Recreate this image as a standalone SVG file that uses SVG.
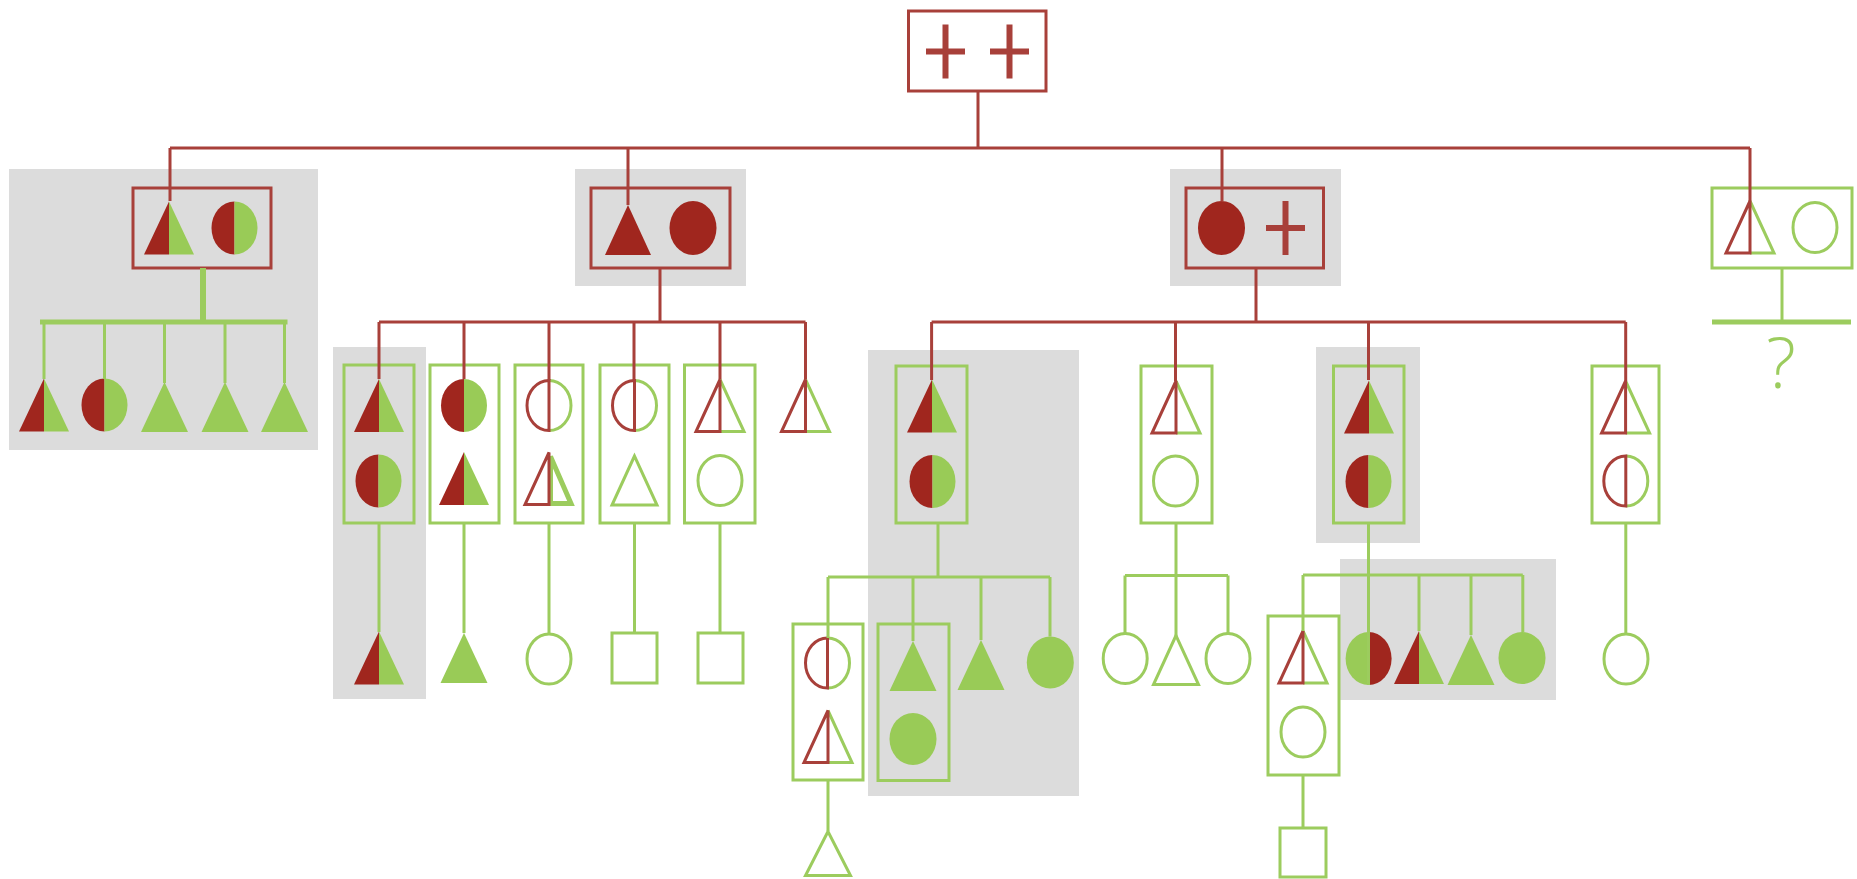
<svg xmlns="http://www.w3.org/2000/svg" xmlns:xlink="http://www.w3.org/1999/xlink" width="1857" height="879" viewBox="0 0 1857 879">
  <style>
    .r { stroke: #a8403a; stroke-width: 3; fill: none; }
    .g { stroke: #9ccc5e; stroke-width: 3; fill: none; }
    .rf { fill: #a0261e; }
    .gf { fill: #99cb57; }
    .hl { fill: #dcdcdc; }
    .bar { stroke-width: 5; }
    .q { font-family: "Open Sans", "Liberation Sans", sans-serif; font-weight: 300; font-size: 70px; fill: #9ccc5e; text-anchor: middle; }
  </style>
  <defs>
    <!-- triangles: apex up, centred on the origin -->
    <g id="tH"><path class="rf" d="M0,-26.5 L-25,26.5 L0,26.5Z"/><path class="gf" d="M0,-26.5 L0,26.5 L25,26.5Z"/></g>
    <path id="tR" class="rf" d="M0,-25 L-23,25 L23,25Z"/>
    <path id="tG" class="gf" d="M0,-25 L-23.5,25 L23.5,25Z"/>
    <g id="tOH"><path class="g" d="M0,-26 L24,26 L0,26"/><path class="r" d="M0,26 L-24,26 L0,-26Z"/></g>
    <g id="tOHb"><path class="g" style="stroke-width:5" d="M1.5,-22 L22,25 L1.5,25Z"/><path class="r" d="M0,26 L-24,26 L0,-26Z"/></g>
    <path id="tO" class="g" d="M0,-24.5 L-22.5,24.5 L22.5,24.5Z"/>
    <!-- ellipses -->
    <g id="cH"><path class="rf" d="M0,-26.5 A23,26.5 0 0 0 0,26.5Z"/><path class="gf" d="M0,-26.5 A23,26.5 0 0 1 0,26.5Z"/></g>
    <g id="cHR"><path class="gf" d="M0,-26.5 A23,26.5 0 0 0 0,26.5Z"/><path class="rf" d="M0,-26.5 A23,26.5 0 0 1 0,26.5Z"/></g>
    <ellipse id="cR" class="rf" rx="23.5" ry="27"/>
    <ellipse id="cG" class="gf" rx="23.5" ry="26"/>
    <ellipse id="cO" class="g" rx="22" ry="25"/>
    <g id="cOH"><path class="g" d="M0,-25 A22,25 0 0 1 0,25"/><path class="r" d="M0,-25 A22,25 0 0 0 0,25Z"/></g>
    <rect id="sq" class="g" x="-22.5" y="-25" width="45" height="50"/>
    <path id="plus" class="r" style="stroke-width:6" d="M-19.5,0H19.5M0,-27V27"/>
  </defs>

  <rect width="1857" height="879" fill="#ffffff"/>

  <!-- shaded groupings -->
  <g id="highlights">
    <rect class="hl" x="9" y="169" width="309" height="281"/>
    <rect class="hl" x="575" y="169" width="171" height="117"/>
    <rect class="hl" x="1170" y="169" width="171" height="117"/>
    <rect class="hl" x="333" y="347" width="93" height="352"/>
    <rect class="hl" x="868" y="350" width="211" height="446"/>
    <rect class="hl" x="1316" y="347" width="104" height="196"/>
    <rect class="hl" x="1340" y="559" width="216" height="141"/>
  </g>

  <!-- generation 1 -->
  <g id="root">
    <rect class="r" x="908.5" y="11" width="137.5" height="80"/>
    <use href="#plus" x="945.5" y="51.5"/>
    <use href="#plus" x="1009.5" y="51.5"/>
  </g>

  <!-- generation 2 -->
  <g id="nodeA">
    <rect class="r" x="133" y="188" width="138" height="80"/>
    <use href="#tH" x="169" y="228"/>
    <use href="#cH" x="234.5" y="228"/>
  </g>
  <g id="nodeB">
    <rect class="r" x="591" y="188" width="139" height="80"/>
    <use href="#tR" x="628" y="230"/>
    <use href="#cR" x="693" y="228"/>
  </g>
  <g id="nodeC">
    <rect class="r" x="1186" y="188" width="137.5" height="80"/>
    <use href="#cR" x="1221.5" y="228"/>
    <use href="#plus" x="1285.5" y="228"/>
  </g>
  <g id="nodeD">
    <rect class="g" x="1712" y="188" width="140" height="80"/>
    <use href="#tOH" x="1750" y="227"/>
    <use href="#cO" x="1815" y="227.5"/>
    <text class="q" x="1781" y="388">?</text>
  </g>

  <!-- generation 3: offspring of A -->
  <g id="nodeA1"><use href="#tH" x="44" y="405"/></g>
  <g id="nodeA2"><use href="#cH" x="104.5" y="405"/></g>
  <g id="nodeA3"><use href="#tG" x="164.5" y="407"/></g>
  <g id="nodeA4"><use href="#tG" x="225" y="407"/></g>
  <g id="nodeA5"><use href="#tG" x="284.5" y="407"/></g>

  <!-- generation 3: offspring of B -->
  <g id="nodeB1">
    <rect class="g" x="344" y="365" width="70" height="158"/>
    <use href="#tH" x="379" y="405.5"/>
    <use href="#cH" x="378.5" y="481"/>
  </g>
  <g id="nodeB2">
    <rect class="g" x="430" y="365" width="69" height="158"/>
    <use href="#cH" x="464" y="405.5"/>
    <use href="#tH" x="464" y="478.5"/>
  </g>
  <g id="nodeB3">
    <rect class="g" x="515" y="365" width="68" height="158"/>
    <use href="#cOH" x="549" y="405.5"/>
    <use href="#tOHb" x="549" y="478.5"/>
  </g>
  <g id="nodeB4">
    <rect class="g" x="600" y="365" width="69" height="158"/>
    <use href="#cOH" x="634.5" y="405.5"/>
    <use href="#tO" x="634.5" y="480.5"/>
  </g>
  <g id="nodeB5">
    <rect class="g" x="684.5" y="365" width="70.5" height="158"/>
    <use href="#tOH" x="720" y="405.5"/>
    <use href="#cO" x="720" y="480.5"/>
  </g>
  <g id="nodeB6"><use href="#tOH" x="805.5" y="405.5"/></g>

  <!-- generation 4 below B -->
  <g id="nodeB1a"><use href="#tH" x="379" y="658"/></g>
  <g id="nodeB2a"><use href="#tG" x="464" y="658"/></g>
  <g id="nodeB3a"><use href="#cO" x="549" y="659"/></g>
  <g id="nodeB4a"><use href="#sq" x="634.5" y="658"/></g>
  <g id="nodeB5a"><use href="#sq" x="720.5" y="658"/></g>

  <!-- generation 3: offspring of C -->
  <g id="nodeC1">
    <rect class="g" x="896" y="366" width="71" height="157"/>
    <use href="#tH" x="932" y="406"/>
    <use href="#cH" x="932.5" y="481.5"/>
  </g>
  <g id="nodeC2">
    <rect class="g" x="1141" y="366" width="71" height="157"/>
    <use href="#tOH" x="1176" y="407"/>
    <use href="#cO" x="1175.5" y="481"/>
  </g>
  <g id="nodeC3">
    <rect class="g" x="1333.5" y="366" width="70.5" height="157"/>
    <use href="#tH" x="1369" y="407"/>
    <use href="#cH" x="1368.5" y="481.5"/>
  </g>
  <g id="nodeC4">
    <rect class="g" x="1592" y="366" width="67" height="157"/>
    <use href="#tOH" x="1625.6" y="407"/>
    <use href="#cOH" x="1625.8" y="481"/>
  </g>

  <!-- generation 4 below C1 -->
  <g id="nodeC1a">
    <rect class="g" x="793" y="624" width="70" height="156"/>
    <use href="#cOH" x="827.5" y="663"/>
    <use href="#tOH" x="828" y="736.5"/>
  </g>
  <g id="nodeC1a1"><path class="g" d="M828,831.5 L805.5,875.5 L850.5,875.5Z"/></g>
  <g id="nodeC1b">
    <rect class="g" x="878" y="624" width="71" height="156.5"/>
    <use href="#tG" x="913" y="666"/>
    <use href="#cG" x="913" y="739"/>
  </g>
  <g id="nodeC1c"><use href="#tG" x="981" y="665"/></g>
  <g id="nodeC1d"><use href="#cG" x="1050.3" y="662.5"/></g>

  <!-- generation 4 below C2 -->
  <g id="nodeC2a"><use href="#cO" x="1125.2" y="658.5"/></g>
  <g id="nodeC2b"><use href="#tO" x="1176" y="660"/></g>
  <g id="nodeC2c"><use href="#cO" x="1228" y="658.5"/></g>

  <!-- generation 4 below C3 -->
  <g id="nodeC3a">
    <rect class="g" x="1268" y="616" width="71" height="159"/>
    <use href="#tOH" x="1303" y="657"/>
    <use href="#cO" x="1303" y="732"/>
  </g>
  <g id="nodeC3a1"><rect class="g" x="1280" y="828" width="46" height="49"/></g>
  <g id="nodeC3b"><use href="#cHR" x="1368.6" y="658.6"/></g>
  <g id="nodeC3c"><use href="#tH" x="1419" y="657.5"/></g>
  <g id="nodeC3d"><use href="#tG" x="1471" y="660"/></g>
  <g id="nodeC3e"><use href="#cG" x="1522" y="658"/></g>

  <!-- generation 4 below C4 -->
  <g id="nodeC4a"><use href="#cO" x="1626" y="659"/></g>

  <!-- connectors -->
  <g id="connectors">
    <!-- root line (red) -->
    <path class="r" d="M978,91V148 M170,148H1750 M170,148V201 M628,148V205 M1222,148V201.5 M1750,148V201"/>
    <!-- B line (red) -->
    <path class="r" d="M660,268V322 M379,322H805.5 M379,322V379 M464,322V379 M549,322V380 M634,322V380 M720,322V379 M805.5,322V379"/>
    <!-- C line (red) -->
    <path class="r" d="M1256,268V322 M931.6,322H1625.7 M931.6,322V380 M1175.5,322V381 M1368.5,322V380 M1625.7,322V381"/>
    <!-- A line (green, heavy) -->
    <path class="g" style="stroke-width:6" d="M203,268V322"/>
    <path class="g bar" d="M40,322H287.5"/>
    <path class="g" d="M44,322V379 M104.5,322V379 M164.5,322V383 M225,322V383 M284.5,322V383"/>
    <!-- B offspring lines -->
    <path class="g" d="M379,523V632 M464,523V633 M549,523V634 M634.5,523V633 M720,523V633"/>
    <!-- C1 line -->
    <path class="g" d="M938,523V577 M828,577H1050 M828,577V638 M913,577V641 M981,577V640 M1050,577V636.5 M828,780V831"/>
    <!-- C2 line -->
    <path class="g" d="M1176,523V636 M1125,575.5H1228 M1125,575.5V633.5 M1228,575.5V633.5"/>
    <!-- C3 line -->
    <path class="g" d="M1368.5,523V685 M1303,575H1522.8 M1303,575V631 M1419,575V631 M1471,575V635 M1522.8,575V632 M1303,775V828"/>
    <!-- C4 line -->
    <path class="g" d="M1625.8,523V634"/>
    <!-- D line -->
    <path class="g" d="M1782,268V322"/>
    <path class="g bar" d="M1712,322H1851"/>
  </g>
</svg>
